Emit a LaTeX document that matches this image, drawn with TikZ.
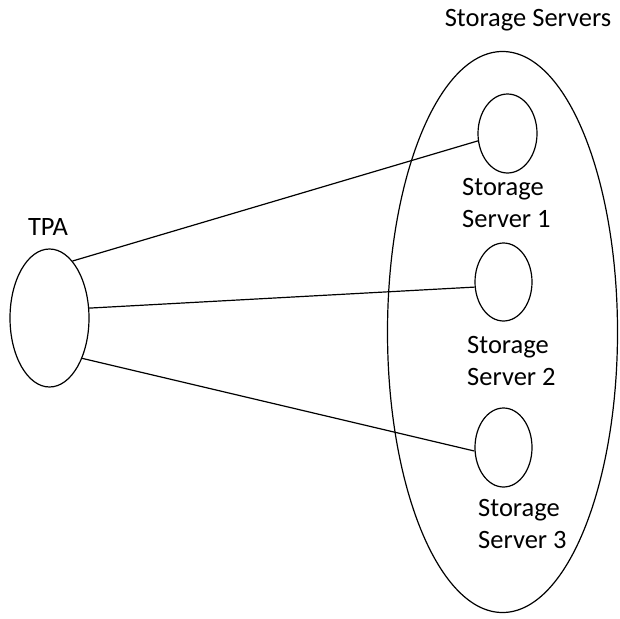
\documentclass[tikz,border=0pt]{standalone}
\usepackage{fontspec}
\setmainfont{Carlito}
\usetikzlibrary{shapes.geometric}
\begin{document}
\begin{tikzpicture}[x=1pt,y=-1pt,
  oval/.style={draw=black,line width=1.2pt,ellipse,inner sep=0pt},
  lbl/.style={font=\fontsize{26.5}{32}\selectfont,text=black,inner sep=0pt,align=left,anchor=base west},
  link/.style={draw=black,line width=1.2pt}]
\useasboundingbox (0,0) rectangle (620,618);
% storage pool and its servers
\node[oval,minimum width=230pt,minimum height=561pt] (pool) at (502.5,332) {};
\node[oval,minimum width=59pt,minimum height=79pt] (ss1) at (507.5,133.5) {};
\node[oval,minimum width=57pt,minimum height=78pt] (ss2) at (503.5,282) {};
\node[oval,minimum width=57pt,minimum height=79pt] (ss3) at (503.5,447.5) {};
% third party auditor
\node[oval,minimum width=79pt,minimum height=138pt] (tpa) at (49.5,318) {};
% labels (base anchor sits on the last line)
\node[lbl,anchor=base] (tpaL) at (48,235) {TPA};
\node[lbl,anchor=base] (poolL) at (528,27) {Storage Servers};
\node[lbl] (ss1L) at (462,227) {Storage\\Server 1};
\node[lbl] (ss2L) at (467,385) {Storage\\Server 2};
\node[lbl] (ss3L) at (478,548) {Storage\\Server 3};
% links from the auditor to each server
\draw[link] (tpa.68.5) -- (ss1.194.3);
\draw[link] (tpa.14) -- (ss2.190);
\draw[link] (tpa.-51.6) -- (ss3.187);
\end{tikzpicture}
\end{document}
